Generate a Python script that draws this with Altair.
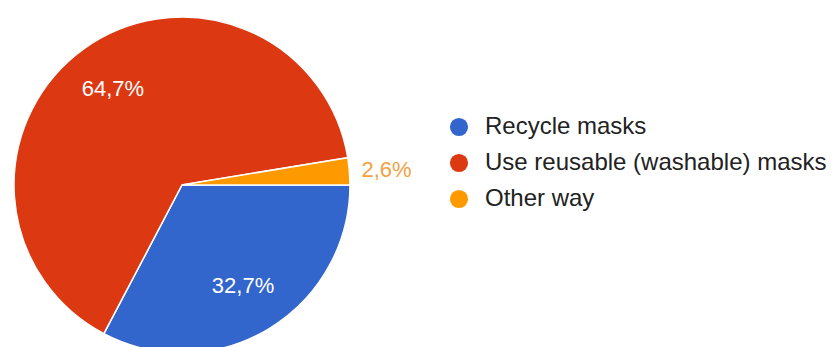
import math
import altair as alt
import pandas as pd

categories = ["Recycle masks", "Use reusable (washable) masks", "Other way"]
shares = [32.7, 64.7, 2.6]
labels = ["32,7%", "64,7%", "2,6%"]
colors = ["#3366CC", "#DC3912", "#FF9900"]

df = pd.DataFrame({
    "cat": categories,
    "share": shares,
    "idx": list(range(len(categories))),
    "inside": [labels[0], labels[1], ""],
    "outside": ["", "", labels[2]],
})

theta = alt.Theta("share:Q", stack=True,
                  scale=alt.Scale(range=[math.pi / 2, math.pi / 2 + 2 * math.pi]))
color = alt.Color("cat:N",
                  scale=alt.Scale(domain=categories, range=colors),
                  sort=categories,
                  legend=alt.Legend(title=None, orient="none", legendX=447, legendY=115,
                                    symbolType="circle", symbolSize=330,
                                    symbolStrokeWidth=0, labelFontSize=24,
                                    labelFont="Liberation Sans", labelColor="#222222",
                                    labelOffset=14, rowPadding=12, padding=0,
                                    labelLimit=500))
order = alt.Order("idx:Q")
cx = alt.value(182)
cy = alt.value(185)

base = alt.Chart(df)
arcs = base.mark_arc(outerRadius=168, stroke="white", strokeWidth=1.5).encode(
    theta=theta, color=color, order=order, x=cx, y=cy)
inside = base.mark_text(radius=118, fontSize=22, font="Liberation Sans",
                        color="white", align="center", baseline="middle").encode(
    theta=theta, order=order, text="inside:N", x=cx, y=cy)
outside = base.mark_text(radius=180, fontSize=22, font="Liberation Sans",
                         color="#F4A040", align="left", baseline="middle").encode(
    theta=theta, order=order, text="outside:N", x=cx, y=cy)

chart = alt.layer(arcs, inside, outside).properties(
    width=839, height=347, padding=0, autosize="none",
    background="white").configure_view(stroke=None)

chart.save("out.html", embed_options={"renderer": "svg", "actions": False})
